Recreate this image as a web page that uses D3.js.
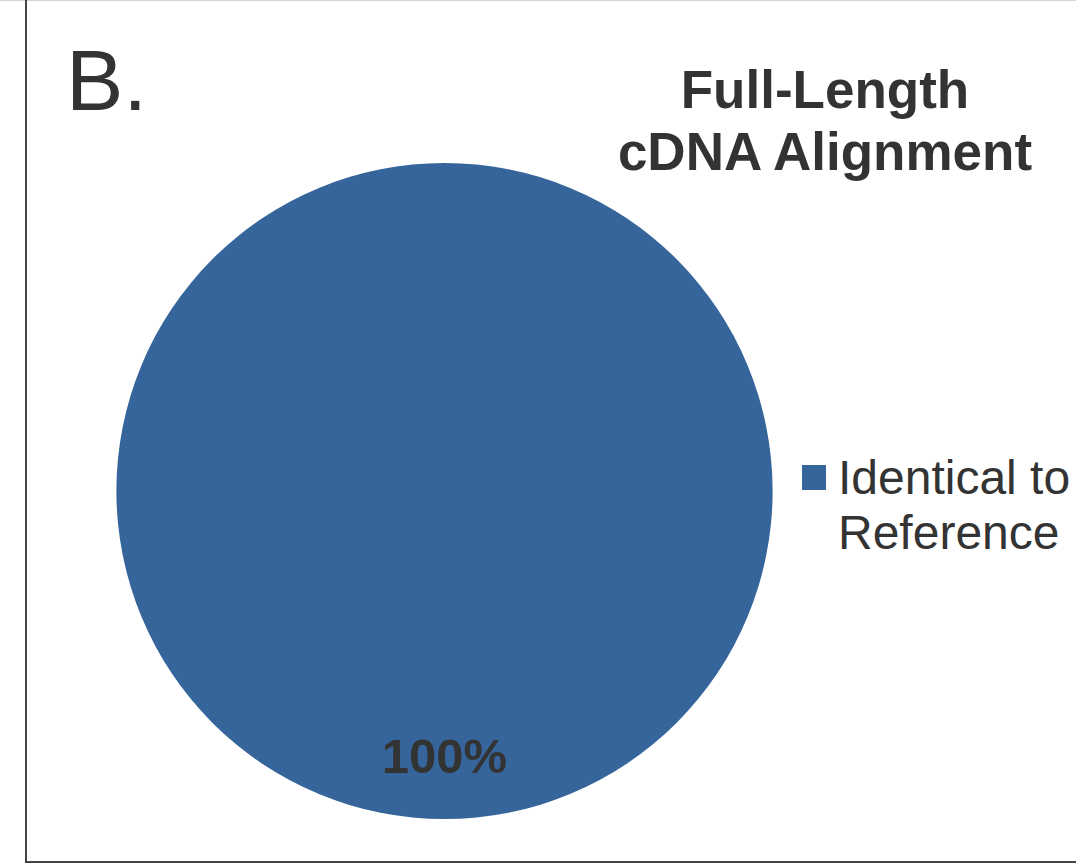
<!DOCTYPE html>
<html>
<head>
<meta charset="utf-8">
<script src="https://cdn.jsdelivr.net/npm/d3@7/dist/d3.min.js"></script>
<style>
  html, body { margin: 0; padding: 0; background: #fff; }
  svg { display: block; }
  text { font-family: "Liberation Sans", Arial, Helvetica, sans-serif; fill: #333333; }
</style>
</head>
<body>
<svg id="chart" width="1076" height="864"></svg>
<script>
// Alignment categories and their shares
const categories = ["Identical to Reference"];
const values = [100];
const colors = ["#36659b"];
const panelLabel = "B.";
const titleLines = ["Full-Length", "cDNA Alignment"];
const legendLines = [["Identical to", "Reference"]];

const svg = d3.select("#chart");

// Panel frame
svg.append("line").attr("x1", 0).attr("x2", 1076).attr("y1", 0.5).attr("y2", 0.5)
  .attr("stroke", "#d4d4d4").attr("stroke-width", 1);
svg.append("line").attr("x1", 26).attr("x2", 26).attr("y1", 0).attr("y2", 863)
  .attr("stroke", "#444").attr("stroke-width", 2);
svg.append("line").attr("x1", 25).attr("x2", 1076).attr("y1", 862).attr("y2", 862)
  .attr("stroke", "#444").attr("stroke-width", 2);

// Panel label
svg.append("text").attr("x", 66).attr("y", 110)
  .style("font-size", "86px").text(panelLabel);

// Title
svg.append("text").attr("text-anchor", "middle")
  .style("font-size", "53px").style("font-weight", "bold")
  .selectAll("tspan").data(titleLines).join("tspan")
  .attr("x", 825).attr("y", (d, i) => 108 + i * 62).text(d => d);

// Pie
const cx = 444.5, cy = 491, r = 328;
const pie = d3.pie().sort(null).value(d => d.value);
const arcs = pie(categories.map((c, i) => ({ name: c, value: values[i], color: colors[i] })));
const arc = d3.arc().innerRadius(0).outerRadius(r);
const g = svg.append("g").attr("transform", `translate(${cx},${cy})`);
g.selectAll("path").data(arcs).join("path")
  .attr("d", arc).attr("fill", d => d.data.color);

// Value labels placed near the outer rim of each slice
const total = d3.sum(values);
const labelArc = d3.arc().innerRadius(r * 0.85).outerRadius(r * 0.85);
g.selectAll("text.value").data(arcs).join("text")
  .attr("class", "value")
  .attr("text-anchor", "middle")
  .attr("transform", d => {
    // a full circle has its centroid at the top; place the label at the bottom
    if (d.endAngle - d.startAngle >= 2 * Math.PI - 1e-6) return `translate(0,${r * 0.86})`;
    const [x, y] = labelArc.centroid(d);
    return `translate(${x},${y})`;
  })
  .style("font-size", "49px").style("font-weight", "bold")
  .text(d => d3.format(".0f")(d.data.value / total * 100) + "%");

// Legend
const legend = svg.append("g").selectAll("g").data(categories).join("g")
  .attr("transform", (d, i) => `translate(802,${465 + i * 120})`);
legend.append("rect").attr("width", 24).attr("height", 25)
  .attr("fill", (d, i) => colors[i]);
legend.append("text").style("font-size", "48px")
  .selectAll("tspan").data((d, i) => legendLines[i]).join("tspan")
  .attr("x", 36).attr("y", (d, i) => 29 + i * 55).text(d => d);
</script>
</body>
</html>
